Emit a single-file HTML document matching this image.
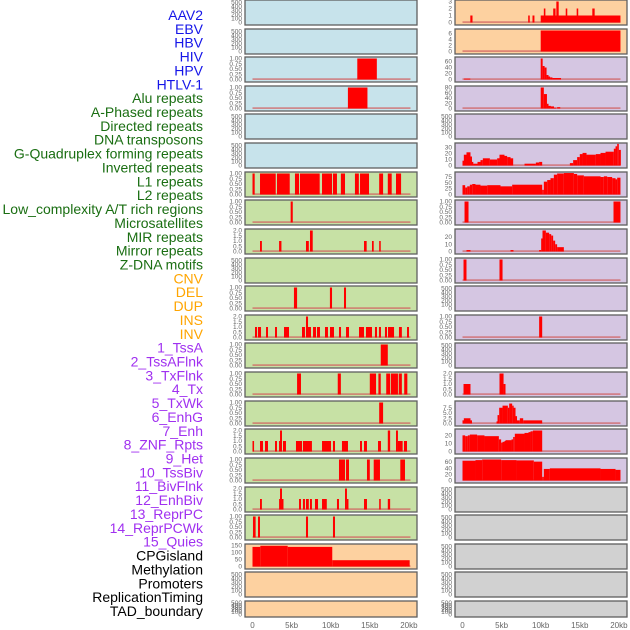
<!DOCTYPE html>
<html><head><meta charset="utf-8"><style>
html,body{margin:0;padding:0;background:#fff;}
svg{display:block;font-family:"Liberation Sans",sans-serif;}
</style></head><body>
<svg id="chart" width="630" height="630" viewBox="0 0 630 630" xmlns="http://www.w3.org/2000/svg"></svg>
<script>
// ---- data (kb segments: [start, end, value]) ----
const labels = ["AAV2","EBV","HBV","HIV","HPV","HTLV-1","Alu repeats","A-Phased repeats","Directed repeats","DNA transposons","G-Quadruplex forming repeats","Inverted repeats","L1 repeats","L2 repeats","Low_complexity A/T rich regions","Microsatellites","MIR repeats","Mirror repeats","Z-DNA motifs","CNV","DEL","DUP","INS","INV","1_TssA","2_TssAFlnk","3_TxFlnk","4_Tx","5_TxWk","6_EnhG","7_Enh","8_ZNF_Rpts","9_Het","10_TssBiv","11_BivFlnk","12_EnhBiv","13_ReprPC","14_ReprPCWk","15_Quies","CPGisland","Methylation","Promoters","ReplicationTiming","TAD_boundary"];
const labelColors = ["#1515e8","#1515e8","#1515e8","#1515e8","#1515e8","#1515e8","#1a6e12","#1a6e12","#1a6e12","#1a6e12","#1a6e12","#1a6e12","#1a6e12","#1a6e12","#1a6e12","#1a6e12","#1a6e12","#1a6e12","#1a6e12","#ffa500","#ffa500","#ffa500","#ffa500","#ffa500","#a030f0","#a030f0","#a030f0","#a030f0","#a030f0","#a030f0","#a030f0","#a030f0","#a030f0","#a030f0","#a030f0","#a030f0","#a030f0","#a030f0","#a030f0","#000","#000","#000","#000","#000"];
const xTickValues = [0,5,10,15,20];
const xTickLabels = ["0","5kb","10kb","15kb","20kb"];

const hbvSegs = [[13.4,15.9,1]];
const hivSegs = [[12.2,14.7,1]];
const aluSegs = [[0,0.28,1],[0.96,2.97,1],[3.13,4.76,1],[5.43,5.95,1],[6.07,8.59,1],[8.89,10.17,1],[10.29,10.8,1],[11.3,11.83,1],[13.1,13.6,1],[13.75,14.9,1],[16.2,16.7,1],[17.3,17.8,1],[18.35,19.0,1]];
const aphasedSegs = [[4.88,5.15,1]];
const directedSegs = [[0.96,1.2,1],[3.4,3.7,1],[6.84,7.2,1],[7.35,7.7,2],[14.26,14.6,1],[15.28,15.5,1],[16.2,16.4,1]];
const gquadSegs = [[5.3,5.7,1],[9.9,10.17,1],[11.7,11.96,1]];
const invertedSegs = [[0.32,0.58,1],[0.7,1.09,1],[1.73,1.98,1],[2.88,3.13,1],[4.03,4.67,1],[6.33,6.71,1],[6.84,7.1,2],[7.1,7.48,1],[7.74,8.12,1],[8.25,8.63,1],[9.27,9.65,1],[9.91,10.42,1],[11.06,11.32,1],[11.96,12.34,1],[13.62,14.26,1],[14.51,15.28,1],[15.66,15.92,1],[16.17,16.43,1],[16.94,17.2,1],[17.33,18.1,1],[18.73,19.1,1],[19.76,20.01,1]];
const l1Segs = [[16.4,17.3,1]];
const l2Segs = [[5.7,6.2,1],[10.9,11.3,1],[15.0,15.8,1],[16.1,16.4,1],[17.1,17.6,1],[17.7,18.6,1],[18.7,19.1,1],[19.4,19.8,1]];
const lowcompSegs = [[16.2,16.7,1]];
const microSegs = [[0,0.2,1],[0.96,1.34,1],[1.6,1.98,1],[2.88,3.13,1],[3.39,3.52,1],[3.52,3.77,2],[3.9,4.28,1],[5.56,6.33,1],[6.45,7.6,1],[8.89,10.04,1],[10.29,10.55,1],[11.44,12.21,1],[13.75,14.0,1],[14.26,14.64,1],[16.05,16.43,1],[17.3,17.6,2],[18.35,18.6,2],[18.6,19.2,1],[19.37,19.76,1]];
const mirSegs = [[11.06,11.83,1],[11.96,12.34,1],[14.64,15.0,1],[15.5,16.3,1],[18.9,19.5,1]];
const mirrorSegs = [[0.96,1.2,1],[3.4,3.52,1],[3.52,3.77,2],[3.77,3.9,1],[5.95,6.2,1],[6.45,6.71,1],[6.84,7.2,1],[7.35,7.6,1],[7.99,8.38,1],[8.89,9.5,1],[10.8,11.06,1],[11.83,12.08,2],[12.08,12.2,1],[14.26,14.64,1],[16.2,16.4,1],[17.3,17.6,1]];
const zdnaSegs = [[0.06,0.4,1],[0.7,0.96,1],[6.84,7.1,1],[10.29,10.55,1]];
const cnvSegs = [[0,1,140],[1,4.5,148],[4.5,10.2,140],[10.2,20.1,45]];
const insSegs = [[1.0,1.28,1],[8.4,8.6,1],[8.95,9.2,1],[10.0,20.2,1],[10.4,10.6,2],[11.6,11.9,2],[12.0,12.3,3],[13.2,13.4,2],[14.6,14.8,2],[16.6,16.9,2]];
const invSegs = [[10.0,20.2,7]];
const tssaSegs = [[0.2,1.0,3],[10.0,10.25,70],[10.25,10.5,45],[10.5,10.75,40],[10.75,11.0,15],[11.0,11.2,10],[11.2,11.5,7],[11.5,12.6,5]];
const tssaflnkSegs = [[10.0,10.4,80],[10.4,10.8,55],[10.8,11.0,18],[11.0,11.3,10],[11.3,11.7,8],[11.7,12.0,3],[12.1,12.5,5]];
const txBreaks = [0,0.17,0.51,1.02,1.19,1.36,1.92,2.3,2.6,3.5,4.43,4.73,5.37,5.71,6.14,6.48,7.93,9.38,9.8,10.19,13.73,14.15,14.66,15.0,15.35,15.86,17.05,17.65,18.29,19.35,19.57,19.78,19.99,20.25];
const txVals = [8,18,22,15,6,3,6,9,12,10,12,18,16,14,12,0,3,5,6,0,4,9,14,19,21,18,19,21,23,28,32,36,26];
const txwkBreaks = [0,0.34,0.6,0.94,1.24,1.66,2.3,3.16,4.86,6.35,10.19,10.4,10.83,11.25,11.68,12.1,12.96,14.24,14.66,15.52,17.65,18.07,18.5,19.14,19.57,19.78,20.2];
const txwkVals = [40,30,35,42,45,42,38,40,35,42,20,55,62,70,85,90,92,88,82,78,75,78,75,70,65,72];
const enhgSegs = [[0.26,0.77,1],[19.31,20.2,1]];
const enhSegs = [[0.51,1.02,2],[6.14,6.52,2],[9.8,10.06,2],[10.06,10.23,18],[10.23,10.66,29],[10.66,11.08,26],[11.08,11.34,24],[11.34,11.59,22],[11.59,11.85,15],[11.85,12.1,10],[12.1,12.96,6]];
const znfSegs = [[0.13,0.51,1],[4.73,5.12,1]];
const tssbivSegs = [[9.8,10.19,1]];
const enhbivSegs = [[0.13,1.02,1],[4.73,5.25,2],[5.25,5.5,1]];
const reprpcBreaks = [0,0.17,1.02,1.15,4.35,4.48,4.69,5.12,5.8,5.97,6.35,6.48,6.78,6.9,7.33,7.76,10.19];
const reprpcVals = [1.5,2.5,1.5,0,1,4,7.5,8.5,7.5,9.5,8.5,7.5,3.5,1.5,2.5,1.5];
const reprpcwkBreaks = [0,0.34,0.68,0.94,1.87,2.81,4.65,4.94,5.12,5.37,5.5,6.27,6.48,6.69,7.93,8.44,8.7,9.0,10.19];
const reprpcwkVals = [20,19,20,21,20,19,15,11,12,13,14,15,18,22,23,24,25,26];
const quiesBreaks = [0,1.66,2.51,4.94,6.9,9.12,10.19,10.4,11.17,17.65,19.57,20.2];
const quiesVals = [65,67,69,67,66,62,12,38,40,38,35];

function stepsToSegs(b, v){ const s=[]; for(let i=0;i<v.length;i++){ if(v[i]>0) s.push([b[i],b[i+1],v[i]]); } return s; }

const T01 = [[0,"0.00"],[0.25,"0.25"],[0.5,"0.50"],[0.75,"0.75"],[1,"1.00"]];
const T02 = [[0,"0.0"],[0.5,"0.5"],[1,"1.0"],[1.5,"1.5"],[2,"2.0"]];
const TE = [[0,"0"],[100,"100"],[200,"200"],[300,"300"],[400,"400"],[500,"500"]];
const BLUE="#c7e3eb", GREEN="#c7e1a5", ORANGE="#fdd1a0", PURPLE="#d5c6e2", GRAY="#d1d1d1";

const panels = [
 {n:"aav2",c:0,r:0,bg:BLUE,ymax:520,t:TE,s:null},
 {n:"ebv",c:0,r:1,bg:BLUE,ymax:520,t:TE,s:null},
 {n:"hbv",c:0,r:2,bg:BLUE,ymax:1,t:T01,s:hbvSegs},
 {n:"hiv",c:0,r:3,bg:BLUE,ymax:1,t:T01,s:hivSegs},
 {n:"hpv",c:0,r:4,bg:BLUE,ymax:520,t:TE,s:null},
 {n:"htlv1",c:0,r:5,bg:BLUE,ymax:520,t:TE,s:null},
 {n:"alu",c:0,r:6,bg:GREEN,ymax:1,t:T01,s:aluSegs},
 {n:"aphased",c:0,r:7,bg:GREEN,ymax:1,t:T01,s:aphasedSegs},
 {n:"directed",c:0,r:8,bg:GREEN,ymax:2,t:T02,s:directedSegs},
 {n:"dna-transposons",c:0,r:9,bg:GREEN,ymax:520,t:TE,s:null},
 {n:"gquad",c:0,r:10,bg:GREEN,ymax:1,t:T01,s:gquadSegs},
 {n:"inverted",c:0,r:11,bg:GREEN,ymax:2,t:T02,s:invertedSegs},
 {n:"l1",c:0,r:12,bg:GREEN,ymax:1,t:T01,s:l1Segs},
 {n:"l2",c:0,r:13,bg:GREEN,ymax:1,t:T01,s:l2Segs},
 {n:"low-complexity",c:0,r:14,bg:GREEN,ymax:1,t:T01,s:lowcompSegs},
 {n:"microsatellites",c:0,r:15,bg:GREEN,ymax:2,t:T02,s:microSegs},
 {n:"mir",c:0,r:16,bg:GREEN,ymax:1,t:T01,s:mirSegs},
 {n:"mirror",c:0,r:17,bg:GREEN,ymax:2,t:T02,s:mirrorSegs},
 {n:"zdna",c:0,r:18,bg:GREEN,ymax:1,t:T01,s:zdnaSegs},
 {n:"cnv",c:0,r:19,bg:ORANGE,ymax:150,t:[[0,"0"],[50,"50"],[100,"100"],[150,"150"]],s:cnvSegs},
 {n:"del",c:0,r:20,bg:ORANGE,ymax:520,t:TE,s:null},
 {n:"dup",c:0,r:21,bg:ORANGE,ymax:520,t:TE,s:null},
 {n:"ins",c:1,r:0,bg:ORANGE,ymax:3,t:[[0,"0"],[1,"1"],[2,"2"],[3,"3"]],s:insSegs},
 {n:"inv",c:1,r:1,bg:ORANGE,ymax:7,t:[[0,"0"],[2,"2"],[4,"4"],[6,"6"]],s:invSegs},
 {n:"tssa",c:1,r:2,bg:PURPLE,ymax:70,t:[[0,"0"],[20,"20"],[40,"40"],[60,"60"]],s:tssaSegs},
 {n:"tssaflnk",c:1,r:3,bg:PURPLE,ymax:80,t:[[0,"0"],[20,"20"],[40,"40"],[60,"60"],[80,"80"]],s:tssaflnkSegs},
 {n:"txflnk",c:1,r:4,bg:PURPLE,ymax:520,t:TE,s:null},
 {n:"tx",c:1,r:5,bg:PURPLE,ymax:35,t:[[0,"0"],[10,"10"],[20,"20"],[30,"30"]],s:stepsToSegs(txBreaks,txVals)},
 {n:"txwk",c:1,r:6,bg:PURPLE,ymax:90,t:[[0,"0"],[25,"25"],[50,"50"],[75,"75"]],s:stepsToSegs(txwkBreaks,txwkVals)},
 {n:"enhg",c:1,r:7,bg:PURPLE,ymax:1,t:T01,s:enhgSegs},
 {n:"enh",c:1,r:8,bg:PURPLE,ymax:29,t:[[0,"0"],[10,"10"],[20,"20"]],s:enhSegs},
 {n:"znf",c:1,r:9,bg:PURPLE,ymax:1,t:T01,s:znfSegs},
 {n:"het",c:1,r:10,bg:PURPLE,ymax:520,t:TE,s:null},
 {n:"tssbiv",c:1,r:11,bg:PURPLE,ymax:1,t:T01,s:tssbivSegs},
 {n:"bivflnk",c:1,r:12,bg:PURPLE,ymax:520,t:TE,s:null},
 {n:"enhbiv",c:1,r:13,bg:PURPLE,ymax:2,t:T02,s:enhbivSegs},
 {n:"reprpc",c:1,r:14,bg:PURPLE,ymax:10,t:[[0,"0.0"],[2.5,"2.5"],[5,"5.0"],[7.5,"7.5"]],s:stepsToSegs(reprpcBreaks,reprpcVals)},
 {n:"reprpcwk",c:1,r:15,bg:PURPLE,ymax:26,t:[[0,"0"],[10,"10"],[20,"20"]],s:stepsToSegs(reprpcwkBreaks,reprpcwkVals)},
 {n:"quies",c:1,r:16,bg:PURPLE,ymax:69,t:[[0,"0"],[20,"20"],[40,"40"],[60,"60"]],s:stepsToSegs(quiesBreaks,quiesVals)},
 {n:"cpgisland",c:1,r:17,bg:GRAY,ymax:520,t:TE,s:null},
 {n:"methylation",c:1,r:18,bg:GRAY,ymax:520,t:TE,s:null},
 {n:"promoters",c:1,r:19,bg:GRAY,ymax:520,t:TE,s:null},
 {n:"replication-timing",c:1,r:20,bg:GRAY,ymax:520,t:TE,s:null},
 {n:"tad-boundary",c:1,r:21,bg:GRAY,ymax:520,t:TE,s:null}
];

// ---- drawing ----
const NS="http://www.w3.org/2000/svg";
const svg=document.getElementById('chart');
const COLX=[245,455], PW=172, KB=7.82;
function rowTop(r){ return Math.round(r*28.62); }
function rowH(r){ return r===21 ? 16 : 25; }
function xs(c,kb){ return COLX[c]+7.5+kb*KB; }
function mk(tag,attrs,parent){ const e=document.createElementNS(NS,tag); for(const k in attrs) e.setAttribute(k,attrs[k]); (parent||svg).appendChild(e); return e; }

// labels
labels.forEach((lab,i)=>{
  const t=mk('text',{x:203,y:(15+i*13.86+5).toFixed(1),'text-anchor':'end','font-size':'14',fill:labelColors[i]});
  t.textContent=lab;
  
  
});

panels.forEach(p=>{
  const g=mk('g',{});
  
  
  const top=rowTop(p.r), h=rowH(p.r), left=COLX[p.c];
  const bottom=top+h-2.5, span=h-4;
  const ys=v=>bottom - v/p.ymax*span;
  mk('rect',{x:left,y:top,width:PW,height:h,fill:p.bg,stroke:'#5f5f5f','stroke-width':1.3},g);
  // ticks
  p.t.forEach(([v,lbl])=>{
    const tt=mk('text',{x:left-3,y:(ys(v)+2).toFixed(1),'text-anchor':'end','font-size':'6.5',fill:'#666'},g);
    tt.textContent=lbl;
    
    
  });
  if(p.s){
    mk('rect',{x:xs(p.c,0),y:bottom-1.2,width:xs(p.c,20.2)-xs(p.c,0),height:1.6,fill:'#d06060',opacity:0.75},g);
    p.s.forEach(([a,b,v])=>{
      const r=mk('rect',{x:xs(p.c,a).toFixed(2),y:ys(v).toFixed(2),width:Math.max(1.5,xs(p.c,b)-xs(p.c,a)).toFixed(2),height:(bottom-ys(v)).toFixed(2),fill:'#ff0000'},g);
      
      
    });
  }
});

// x axes
[0,1].forEach(c=>{
  xTickValues.forEach((v,i)=>{
    const t=mk('text',{x:xs(c,v),y:628,'text-anchor':'middle','font-size':'8',fill:'#666'});
    t.textContent=xTickLabels[i];
    
    
  });
});
</script>
</body></html>
